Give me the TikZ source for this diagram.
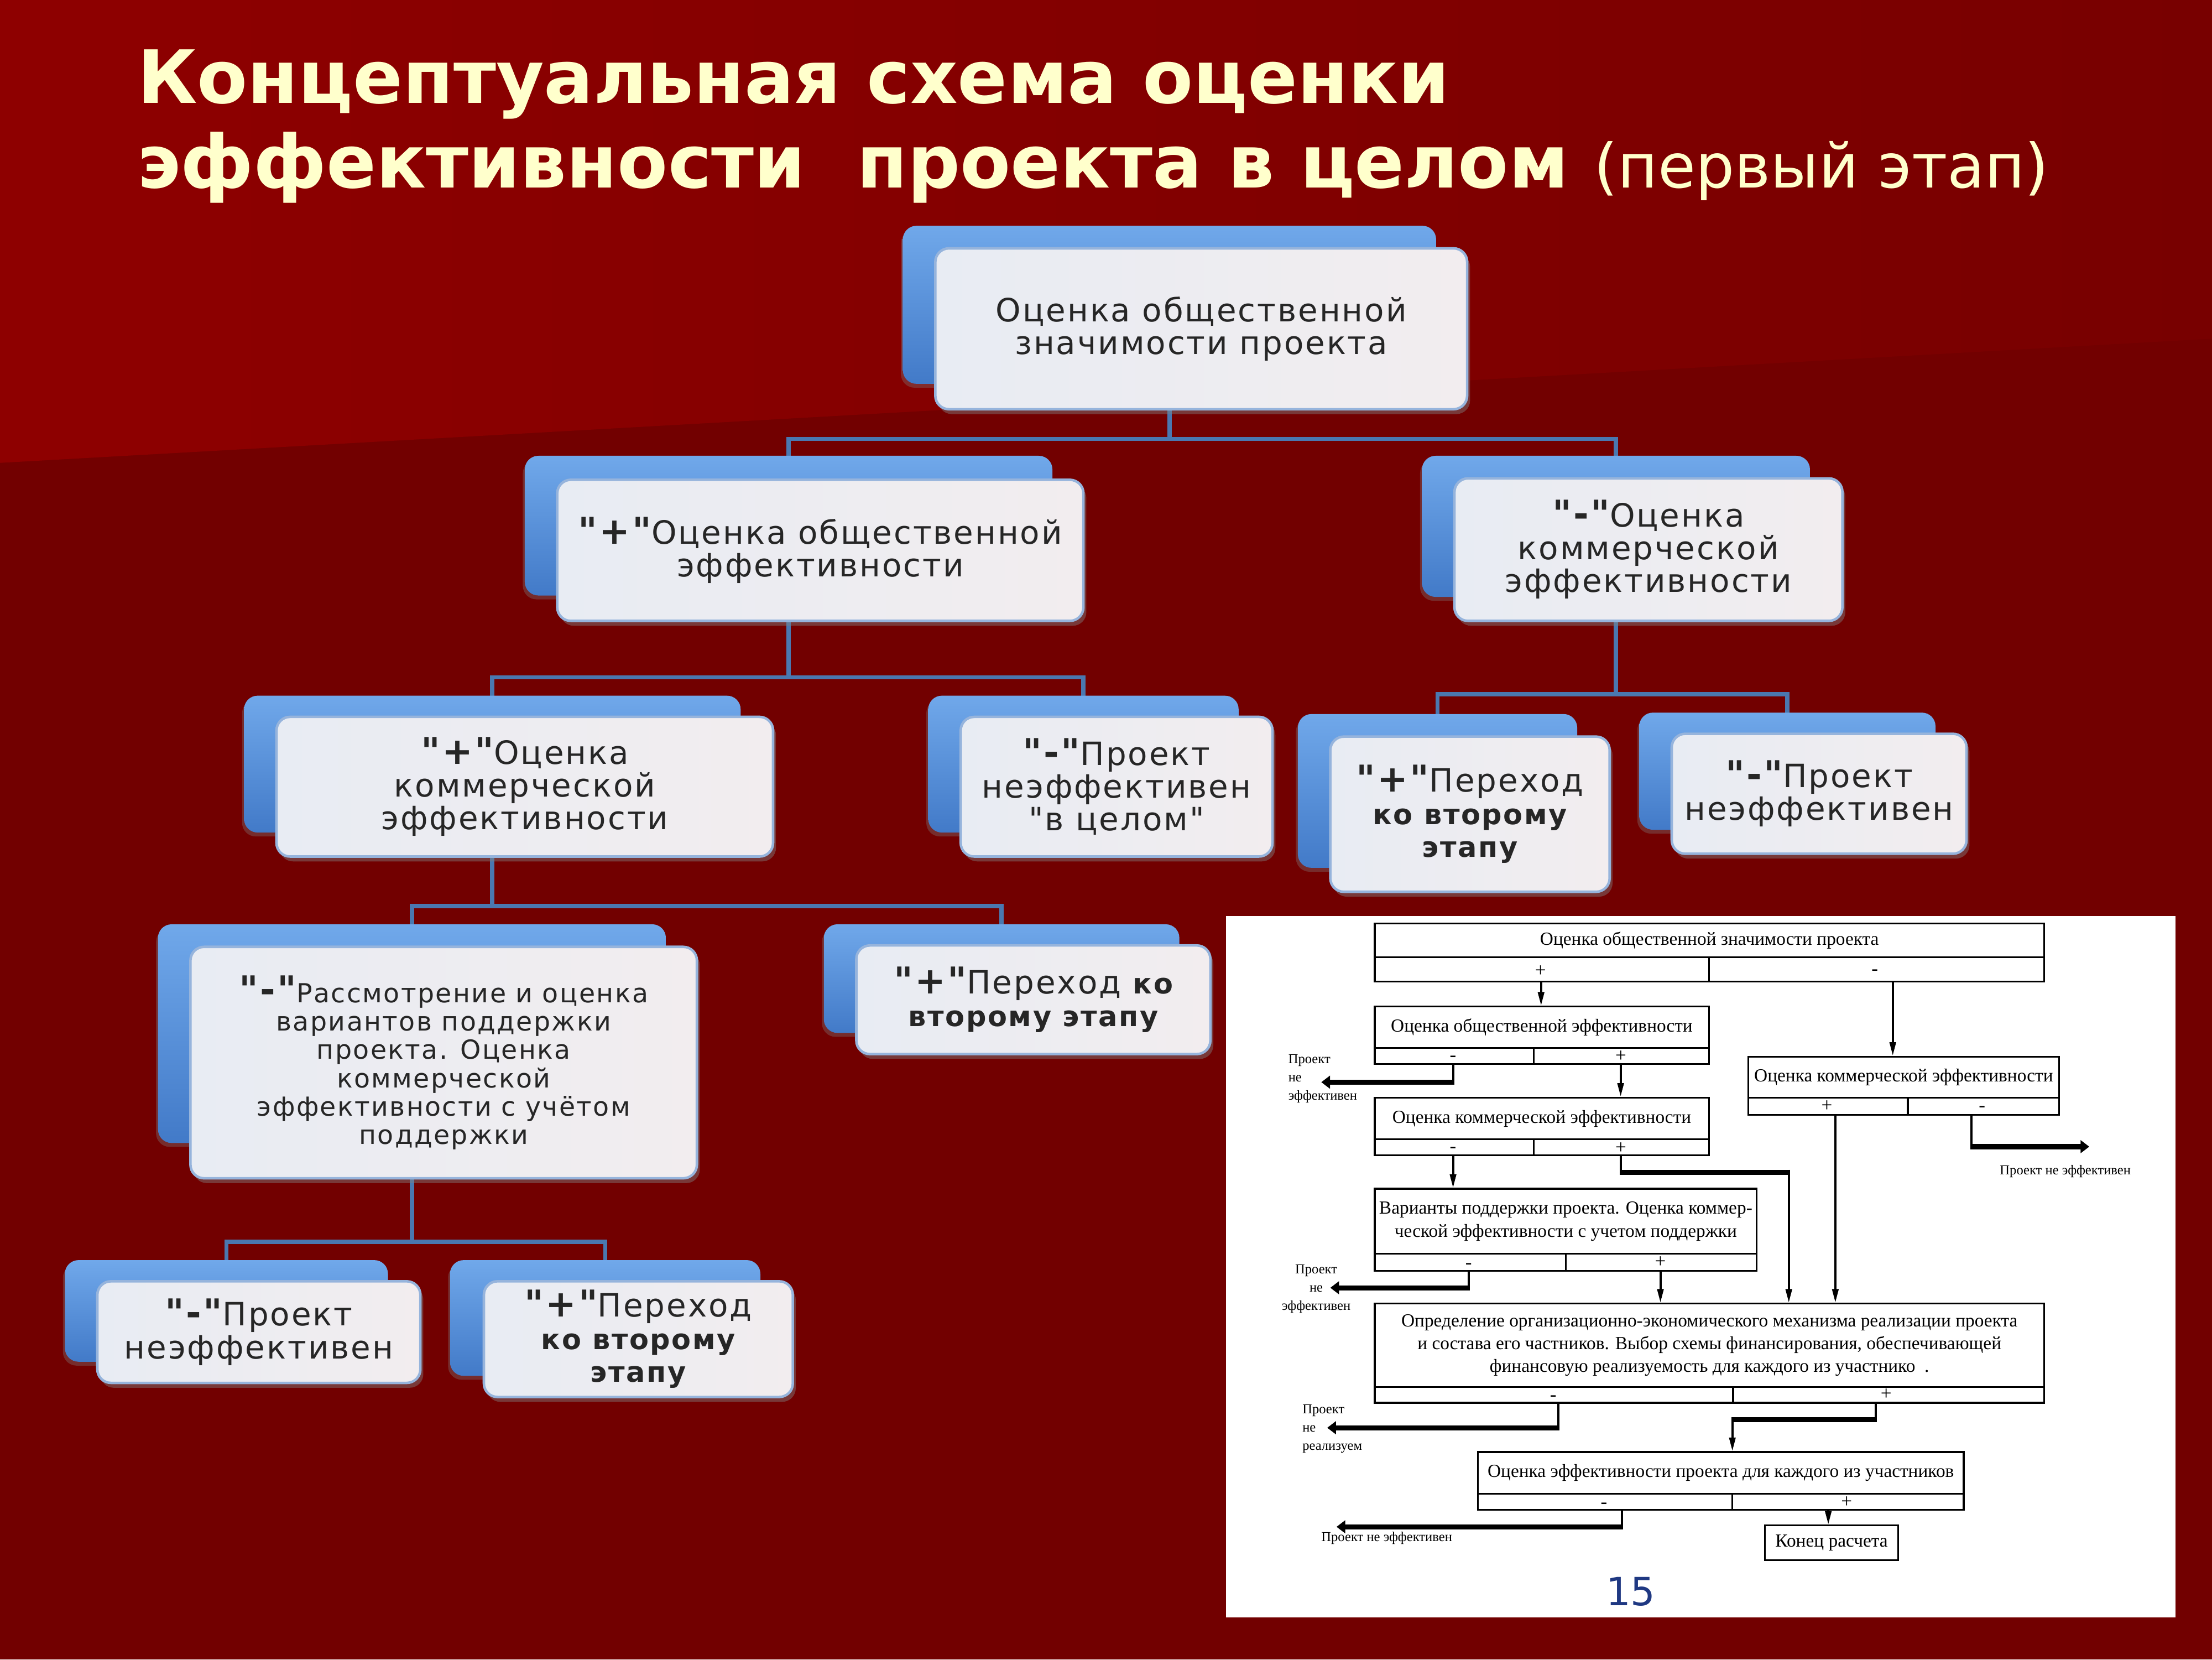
\documentclass[tikz,border=0pt]{standalone}
\usepackage{fontspec}
\setmainfont{DejaVu Sans}
\newfontfamily\boxfont{DejaVu Sans}[LetterSpace=5]
\newfontfamily\fcfont{Liberation Serif}
\usetikzlibrary{fit,shadows,arrows.meta,calc}
\pgfdeclarelayer{bg}
\pgfsetlayers{bg,main}

\definecolor{bgtop}{RGB}{142,0,0}
\definecolor{bgtopr}{RGB}{120,0,0}
\definecolor{bgbot}{RGB}{114,0,0}
\definecolor{titlecol}{RGB}{255,255,204}
\definecolor{conncol}{RGB}{74,120,176}
\definecolor{backtop}{RGB}{112,168,234}
\definecolor{backbot}{RGB}{66,122,200}
\definecolor{frontl}{RGB}{232,236,243}
\definecolor{frontr}{RGB}{242,237,239}
\definecolor{frontdraw}{RGB}{150,180,220}
\definecolor{pagenum}{RGB}{31,56,130}

\newcommand\qplus{{\fontsize{19}{17}\selectfont\bfseries"+"}}
\newcommand\qminus{{\fontsize{19}{17}\selectfont\bfseries"-"}}
\newcommand\bsm[1]{{\fontsize{14.5}{17}\selectfont\bfseries #1}}

\tikzset{
  title/.style={text=titlecol, font=\fontsize{37.8}{44}\selectfont\bfseries, inner sep=0pt},
  backbox/.style={rounded corners=7pt, top color=backtop, bottom color=backbot, draw=none, inner sep=0pt,
    drop shadow={shadow xshift=-1pt, shadow yshift=-2pt, opacity=0.35}},
  frontbox/.style={rounded corners=7pt, left color=frontl, right color=frontr, draw=frontdraw,
    line width=1.3pt, inner sep=0pt,
    drop shadow={shadow xshift=1.5pt, shadow yshift=-2.5pt, opacity=0.45}},
  boxtext/.style={inner sep=0pt, align=center, text=black!85,
    font=\boxfont\fontsize{16.5}{16.8}\selectfont},
  conn/.style={draw=conncol, line width=2.2pt},
  fcell/.style={draw=black, line width=0.9pt, fill=white, inner sep=0pt},
  fctext/.style={inner sep=0pt, align=center, font=\fcfont\fontsize{9.5}{11.8}\selectfont},
  sign/.style={inner sep=0pt, font=\fcfont\fontsize{10}{10}\selectfont},
  flabel/.style={inner sep=0pt, font=\fcfont\fontsize{7}{9.4}\selectfont},
  fline/.style={line width=1.1pt},
  farrow/.style={line width=1.1pt, -{Triangle[length=7pt,width=3.2pt]}},
  fthick/.style={line width=2.6pt, -{Triangle[length=4.5pt,width=6.5pt]}},
}

\newcommand\blbox[5][]{%
  \node[backbox, fit={#3}] (#2b) {};
  \node[frontbox, fit={#4}] (#2) {};
  \node[boxtext, #1] (#2t) at (#2.center) {#5};
}

\begin{document}
\begin{tikzpicture}[x=0.02551cm,y=-0.02551cm]
\useasboundingbox (0,0) rectangle (1568,1176);
\begin{pgfonlayer}{bg}
  \fill[bgbot] (0,0) rectangle (1568,1176);
  \shade[left color=bgtop,right color=bgtopr] (0,0) -- (1568,0) -- (1568,240) -- (0,328) -- cycle;
\end{pgfonlayer}

% title
\node[title, anchor=base west] (t1) at (97,73) {Концептуальная схема оценки};
\node[title, anchor=base west] (t2) at (97,133) {эффективности\ \ проекта в целом {\mdseries\fontsize{31.5}{40}\selectfont (первый этап)}};

% blue boxes
\blbox{n1}{(640,160) (1018,272)}{(663,176) (1040,290)}{Оценка общественной\\значимости проекта}
\blbox{n2}{(372,323) (746,422)}{(395,340) (768,440)}{\qplus Оценка общественной\\эффективности}
\blbox{n3}{(1008,323) (1283,423)}{(1031,339) (1306,440)}{\qminus Оценка\\коммерческой\\эффективности}
\blbox{n4}{(173,493) (525,590)}{(196,508) (548,607)}{\qplus Оценка\\коммерческой\\эффективности}
\blbox{n5}{(658,493) (878,590)}{(681,508) (902,607)}{\qminus Проект\\неэффективен\\"в целом"}
\blbox{n6}{(920,506) (1118,615)}{(943,522) (1141,632)}{\qplus Переход\\\bsm{ко второму}\\\bsm{этапу}}
\blbox{n7}{(1162,505) (1372,588)}{(1185,520) (1394,605)}{\qminus Проект\\неэффективен}
\blbox[font=\boxfont\fontsize{13.5}{14.6}\selectfont]{n8}{(112,655) (472,810)}{(135,671) (494,835)}{\qminus Рассмотрение и оценка\\вариантов поддержки\\проекта. Оценка\\коммерческой\\эффективности с учётом\\поддержки}
\blbox{n9}{(584,655) (836,732)}{(607,670) (858,747)}{\qplus Переход \bsm{ко}\\\bsm{второму этапу}}
\blbox{n10}{(46,893) (275,965)}{(69,908) (298,980)}{\qminus Проект\\неэффективен}
\blbox{n11}{(319,893) (539,975)}{(343,908) (562,990)}{\qplus Переход\\\bsm{ко второму}\\\bsm{этапу}}

% connectors of the tree (behind the boxes)
\begin{pgfonlayer}{bg}
  \coordinate (y1) at (0,311);
  \coordinate (y2) at (0,480);
  \coordinate (y3) at (0,492);
  \coordinate (y4) at (0,642);
  \coordinate (y5) at (0,880);
  \draw[conn] (n1b.center) -- (n1b.center |- y1);
  \draw[conn] (n2b.center) -- (n2b.center |- y1) -- (n3b.center |- y1) -- (n3b.center);
  \draw[conn] (n2b.center) -- (n2b.center |- y2);
  \draw[conn] (n4b.center) -- (n4b.center |- y2) -- (n5b.center |- y2) -- (n5b.center);
  \draw[conn] (n3b.center) -- (n3b.center |- y3);
  \draw[conn] (n6b.center) -- (n6b.center |- y3) -- (n7b.center |- y3) -- (n7b.center);
  \draw[conn] (n4b.center) -- (n4b.center |- y4);
  \draw[conn] (n8b.center) -- (n8b.center |- y4) -- (n9b.center |- y4) -- (n9b.center);
  \draw[conn] (n8b.center) -- (n8b.center |- y5);
  \draw[conn] (n10b.center) -- (n10b.center |- y5) -- (n11b.center |- y5) -- (n11b.center);
\end{pgfonlayer}

% white panel with the flowchart
\node[fill=white, inner sep=0pt, fit={(869,649) (1542,1146)}] (panel) {};

\node[fcell, fit={(974.5,654.5) (1449,678.4)}] (fA) {};
\node[fctext] (fAt) at (fA.center) {Оценка общественной значимости проекта};
\node[fcell, fit={(974.5,678.4) (1211.3,695.7)}] (fAl) {};
\node[fcell, fit={(1211.3,678.4) (1449,695.7)}] (fAr) {};
\node[sign] (sAp) at (1092,688) {+};
\node[sign] (sAm) at (1329,689) {-};

\node[fcell, fit={(974.5,713.3) (1211.3,742.7)}] (fB) {};
\node[fctext] (fBt) at (fB.center) {Оценка общественной эффективности};
\node[fcell, fit={(974.5,742.7) (1087.3,754.1)}] (fBl) {};
\node[fcell, fit={(1087.3,742.7) (1211.3,754.1)}] (fBr) {};
\node[sign] (sBm) at (1030,750) {-};
\node[sign] (sBp) at (1149,748.5) {+};

\node[fcell, fit={(974.5,777.8) (1211.3,807.4)}] (fC) {};
\node[fctext] (fCt) at (fC.center) {Оценка коммерческой эффективности};
\node[fcell, fit={(974.5,807.4) (1087.3,818.6)}] (fCl) {};
\node[fcell, fit={(1087.3,807.4) (1211.3,818.6)}] (fCr) {};
\node[sign] (sCm) at (1030,815) {-};
\node[sign] (sCp) at (1149,813.5) {+};

\node[fcell, fit={(1239.2,748.8) (1459.6,778)}] (fD) {};
\node[fctext] (fDt) at (fD.center) {Оценка коммерческой эффективности};
\node[fcell, fit={(1239.2,778) (1352.4,790)}] (fDl) {};
\node[fcell, fit={(1352.4,778) (1459.6,790)}] (fDr) {};
\node[sign] (sDp) at (1295,784) {+};
\node[sign] (sDm) at (1405,786) {-};

\node[fcell, fit={(974.5,842.4) (1245.3,888.5)}] (fE) {};
\node[fctext] (fEt) at (fE.center) {Варианты поддержки проекта. Оценка коммер-\\ческой эффективности с учетом поддержки};
\node[fcell, fit={(974.5,888.5) (1110,900.7)}] (fEl) {};
\node[fcell, fit={(1110,888.5) (1245.3,900.7)}] (fEr) {};
\node[sign] (sEm) at (1041,897) {-};
\node[sign] (sEp) at (1177,894.5) {+};

\node[fcell, fit={(974.5,923.8) (1449,982.9)}] (fF) {};
\node[fctext] (fFt) at (fF.center) {Определение организационно-экономического механизма реализации проекта\\и состава его частников. Выбор схемы финансирования, обеспечивающей\\финансовую реализуемость для каждого из участнико\ \ .};
\node[fcell, fit={(974.5,982.9) (1228.5,994.1)}] (fFl) {};
\node[fcell, fit={(1228.5,982.9) (1449,994.1)}] (fFr) {};
\node[sign] (sFm) at (1101,991) {-};
\node[sign] (sFp) at (1337,988) {+};

\node[fcell, fit={(1047.6,1029) (1392,1058.7)}] (fG) {};
\node[fctext] (fGt) at (fG.center) {Оценка эффективности проекта для каждого из участников};
\node[fcell, fit={(1047.6,1058.7) (1228,1069.9)}] (fGl) {};
\node[fcell, fit={(1228,1058.7) (1392,1069.9)}] (fGr) {};
\node[sign] (sGm) at (1137,1067) {-};
\node[sign] (sGp) at (1309,1064.5) {+};

\node[fcell, fit={(1251,1081) (1345.6,1105.7)}] (fH) {};
\node[fctext] (fHt) at (fH.center) {Конец расчета};

% labels
\node[flabel, align=left, anchor=north west] (L1) at (913,747) {Проект\\не\\эффективен};
\node[flabel] (L2) at (1464,830) {Проект не эффективен};
\node[flabel, align=center, anchor=north] (L3) at (933,896) {Проект\\не\\эффективен};
\node[flabel, align=left, anchor=north west] (L4) at (923,995) {Проект\\не\\реализуем};
\node[flabel] (L5) at (983,1090) {Проект не эффективен};

% flowchart connectors
\coordinate (aA1) at (1092.4,695.7);
\draw[farrow] (aA1) -- (aA1 |- fB.north);
\coordinate (aA2) at (1341.7,695.7);
\draw[farrow] (aA2) -- (aA2 |- fD.north);

\coordinate (cB) at (1030,766.9);
\coordinate (eB) at (936.6,766.9);
\draw[fline] (cB |- fBl.south) -- ([yshift=-1.3pt]cB);
\draw[fthick] (cB) -- (eB);

\coordinate (aB) at (1148.8,754.1);
\draw[farrow] (aB) -- (aB |- fC.north);

\coordinate (aD1) at (1301,790);
\draw[farrow] (aD1) -- (aD1 |- fF.north);
\coordinate (cD) at (1397.5,812.6);
\coordinate (eD) at (1481,812.6);
\draw[fline] (cD |- fDr.south) -- ([yshift=-1.3pt]cD);
\draw[fthick] (cD) -- (eD);

\coordinate (aC) at (1030,818.6);
\draw[farrow] (aC) -- (aC |- fE.north);
\coordinate (cC1) at (1149,830.7);
\coordinate (cC2) at (1268,830.7);
\draw[fline] (cC1 |- fCr.south) -- ([yshift=-1.3pt]cC1);
\draw[line width=2.6pt] (cC1) -- (cC2);
\draw[farrow] ([yshift=1.3pt]cC2) -- (cC2 |- fF.north);

\coordinate (cE) at (1041.3,912.6);
\coordinate (eE) at (943,912.6);
\draw[fline] (cE |- fEl.south) -- ([yshift=-1.3pt]cE);
\draw[fthick] (cE) -- (eE);
\coordinate (aE) at (1177,900.7);
\draw[farrow] (aE) -- (aE |- fF.north);

\coordinate (cF) at (1104.6,1011.8);
\coordinate (eF) at (940.8,1011.8);
\draw[fline] (cF |- fFl.south) -- ([yshift=-1.3pt]cF);
\draw[fthick] (cF) -- (eF);
\coordinate (cF1) at (1329.6,1006.2);
\coordinate (cF2) at (1228,1006.2);
\draw[fline] (cF1 |- fFr.south) -- ([yshift=-1.3pt]cF1);
\draw[line width=2.6pt] (cF1) -- (cF2);
\draw[farrow] ([yshift=1.3pt]cF2) -- (cF2 |- fG.north);

\coordinate (cG) at (1149.7,1082);
\coordinate (eG) at (947.4,1082);
\draw[fline] (cG |- fGl.south) -- ([yshift=-1.3pt]cG);
\draw[fthick] (cG) -- (eG);
\coordinate (aG) at (1296,1069.9);
\draw[farrow] (aG) -- (aG |- fH.north);

% page number
\node[text=pagenum, font=\fontsize{20}{24}\selectfont, inner sep=0pt] (pg) at (1156,1128) {15};
\end{tikzpicture}
\end{document}
